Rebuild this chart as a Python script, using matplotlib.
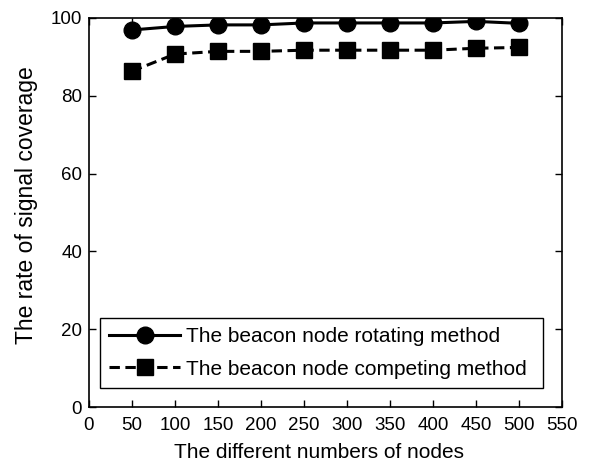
import matplotlib
matplotlib.use("Agg")
import matplotlib.pyplot as plt

nodes = [50, 100, 150, 200, 250, 300, 350, 400, 450, 500]
rotating = [96.9, 97.8, 98.2, 98.2, 98.7, 98.7, 98.7, 98.7, 99.1, 98.6]
competing = [86.3, 90.7, 91.4, 91.4, 91.7, 91.7, 91.7, 91.7, 92.2, 92.4]
xticks = list(range(0, 551, 50))
yticks = list(range(0, 101, 20))

plt.rcParams['font.family'] = ['Liberation Sans', 'DejaVu Sans']

fig = plt.figure(figsize=(5.93, 4.66), dpi=100)
ax = fig.add_axes([0.150, 0.1266, 0.798, 0.835])

ax.plot(nodes, rotating, color='black', lw=2.2, marker='o', markersize=12,
        label='The beacon node rotating method')
ax.plot(nodes, competing, color='black', lw=2.2, marker='s', markersize=11,
        linestyle=(0, (3.4, 1.8)), label='The beacon node competing method')

ax.set_xlim(0, 550)
ax.set_ylim(0, 100)
ax.set_xticks(xticks)
ax.set_yticks(yticks)
ax.tick_params(direction='in', top=True, right=True, length=5, width=1,
               labelsize=13.5)
ax.tick_params(axis='x', pad=7)
ax.tick_params(axis='y', pad=5)
for s in ax.spines.values():
    s.set_linewidth(1.2)

ax.set_xlabel('The different numbers of nodes', fontsize=15, labelpad=7)
ax.set_ylabel('The rate of signal coverage', fontsize=16.5, labelpad=9)
ax.xaxis.label.set_x(0.487)
ax.yaxis.label.set_y(0.518)

leg = ax.legend(loc='lower left', bbox_to_anchor=(0.023, 0.049, 0.937, 0.177),
                mode='expand', fontsize=15, frameon=True, fancybox=False,
                edgecolor='black', framealpha=1, handlelength=3.4,
                borderaxespad=0, borderpad=0.45, labelspacing=0.65,
                handletextpad=0.3)
leg.get_frame().set_linewidth(1.0)

fig.savefig('out.png', dpi=100)
